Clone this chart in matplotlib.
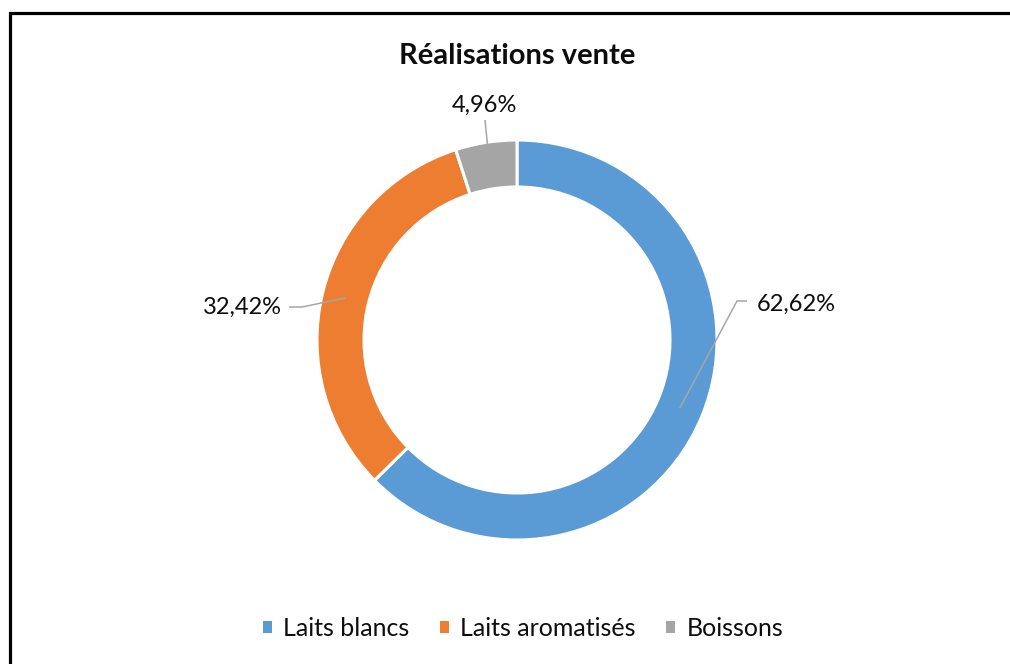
import numpy as np
import matplotlib.pyplot as plt
from matplotlib.patches import Patch, Rectangle

# data
categories = ["Laits blancs", "Laits aromatisés", "Boissons"]
shares = [62.62, 32.42, 4.96]
colors = ["#5B9BD5", "#ED7D31", "#A5A5A5"]
title = "Réalisations vente"

plt.rcParams['font.family'] = ['Lato', 'DejaVu Sans']

W, H = 1010, 664
cx, cy, R = 517, 340, 200
fig = plt.figure(figsize=(W / 100, H / 100), dpi=100)
ax = fig.add_axes([0, 0, 1, 1])
ax.axis('off')

width = 0.235
wedges, _ = ax.pie(shares, colors=colors, startangle=90, counterclock=False,
                   radius=1, wedgeprops=dict(width=width, edgecolor='white', linewidth=2.2))
ax.set_xlim(-cx / R, (W - cx) / R)
ax.set_ylim(-(H - cy) / R, cy / R)
ax.set_aspect('equal')

# data labels with leader lines
rmid = 1 - width / 2
# (elbow, end of horizontal, text pos, ha, va) per slice
label_geo = [
    ((1.10, 0.195), (1.15, 0.195), (1.20, 0.18), 'left', 'center'),
    ((-1.075, 0.165), (-1.14, 0.165), (-1.175, 0.165), 'right', 'center'),
    ((-0.16, 1.10), (-0.16, 1.10), (-0.165, 1.12), 'center', 'bottom'),
]
for w, val, (elb, end, tpos, ha, va) in zip(wedges, shares, label_geo):
    ang = np.deg2rad((w.theta1 + w.theta2) / 2)
    x0, y0 = rmid * np.cos(ang), rmid * np.sin(ang)
    ax.plot([x0, elb[0], end[0]], [y0, elb[1], end[1]], color='#A6A6A6', lw=1.1,
            solid_capstyle='butt')
    ax.text(tpos[0], tpos[1], f"{val:.2f}%".replace('.', ','), ha=ha, va=va,
            fontsize=17, color='#0d0d0d')

fig.text(cx / W, 1 - 56 / H, title, ha='center', va='center', fontsize=21,
         fontweight='bold', color='#0d0d0d')

handles = [Patch(facecolor=c, edgecolor='none') for c in colors]
fig.legend(handles, categories, loc='center', bbox_to_anchor=(523 / W, 1 - 628 / H),
           ncol=3, frameon=False, fontsize=18, handlelength=0.36, handleheight=0.36,
           handletextpad=0.45, columnspacing=1.22, labelcolor='#0d0d0d')

# chart frame (only top/left visible)
fig.patches.append(Rectangle((10 / W, -0.1), 1.2, 1 - 13 / H + 0.1, transform=fig.transFigure,
                             fill=False, edgecolor='black', linewidth=2.3))

fig.savefig('out.png', dpi=100, facecolor='white')
